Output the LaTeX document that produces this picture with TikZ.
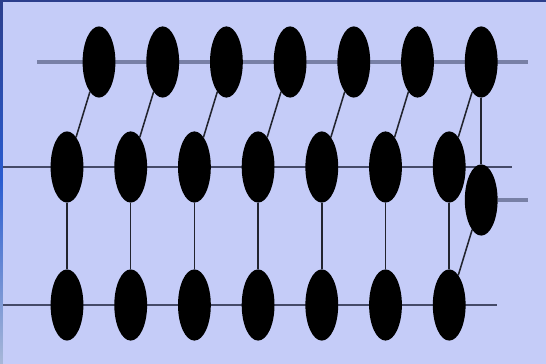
\documentclass[tikz,border=0pt]{standalone}
\usetikzlibrary{positioning, shapes.geometric}

\definecolor{bgblue}{HTML}{C5CCF8}
\definecolor{bandtop}{HTML}{2C3E8C}
\definecolor{bandmid}{HTML}{2A5CD0}
\definecolor{bandlow}{HTML}{A8B8D8}
\definecolor{railgray}{HTML}{7880A6}
\definecolor{raildark}{HTML}{454A68}
\definecolor{linkgray}{HTML}{22242E}

\begin{document}
\begin{tikzpicture}[
        bead/.style={ellipse, fill=black, inner sep=0pt, outer sep=0pt, minimum width=0.82cm, minimum height=1.78cm},
        rail/.style={draw=raildark, line width=1.8pt},
        thickrail/.style={draw=railgray, line width=3.5pt},
        link/.style={draw=linkgray, line width=1.1pt}
    ]
    \useasboundingbox (0,0) rectangle (13.65,-9.1);
    % background and edge bands
    \fill[bgblue] (0,0) rectangle (13.65,-9.1);
    \shade[top color=bandtop, bottom color=bandmid] (0,0) rectangle (0.075,-4.5);
    \shade[top color=bandmid, bottom color=bandlow] (0,-4.5) rectangle (0.075,-9.1);
    \fill[bandtop] (0,0) rectangle (13.65,-0.05);

    % rail ends
    \coordinate (topL) at (0.925,-1.55);
    \coordinate (topR) at (13.2,-1.55);
    \coordinate (midL) at (0.075,-4.175);
    \coordinate (midR) at (12.8,-4.175);
    \coordinate (lowL) at (0.075,-7.625);
    \coordinate (lowR) at (12.425,-7.625);
    \coordinate (stubL) at (12.45,-5.0);
    \coordinate (stubR) at (13.2,-5.0);

    \draw[thickrail] (topL) -- (topR);
    \draw[rail] (midL) -- (midR);
    \draw[rail] (lowL) -- (lowR);
    \draw[thickrail] (stubL) -- (stubR);

    % top row
    \node[bead] (t1) at (2.475,-1.55) {};
    \node[bead, right=0.7725cm of t1] (t2) {};
    \node[bead, right=0.7725cm of t2] (t3) {};
    \node[bead, right=0.7725cm of t3] (t4) {};
    \node[bead, right=0.7725cm of t4] (t5) {};
    \node[bead, right=0.7725cm of t5] (t6) {};
    \node[bead, right=0.7725cm of t6] (t7) {};

    % middle row
    \node[bead] (m1) at (1.675,-4.175) {};
    \node[bead, right=0.7725cm of m1] (m2) {};
    \node[bead, right=0.7725cm of m2] (m3) {};
    \node[bead, right=0.7725cm of m3] (m4) {};
    \node[bead, right=0.7725cm of m4] (m5) {};
    \node[bead, right=0.7725cm of m5] (m6) {};
    \node[bead, right=0.7725cm of m6] (m7) {};

    % bottom row
    \node[bead] (b1) at (1.675,-7.625) {};
    \node[bead, right=0.7725cm of b1] (b2) {};
    \node[bead, right=0.7725cm of b2] (b3) {};
    \node[bead, right=0.7725cm of b3] (b4) {};
    \node[bead, right=0.7725cm of b4] (b5) {};
    \node[bead, right=0.7725cm of b5] (b6) {};
    \node[bead, right=0.7725cm of b6] (b7) {};

    % odd one out
    \node[bead] (mx) at (t7 |- stubL) {};

    \draw[link] (t1) -- (m1);
    \draw[link] (t2) -- (m2);
    \draw[link] (t3) -- (m3);
    \draw[link] (t4) -- (m4);
    \draw[link] (t5) -- (m5);
    \draw[link] (t6) -- (m6);
    \draw[link] (t7) -- (m7);
    \draw[link] (m1) -- (b1);
    \draw[link] (m2) -- (b2);
    \draw[link] (m3) -- (b3);
    \draw[link] (m4) -- (b4);
    \draw[link] (m5) -- (b5);
    \draw[link] (m6) -- (b6);
    \draw[link] (m7) -- (b7);
    \draw[link] (t7) -- (mx);
    \draw[link] (mx) -- (b7);
\end{tikzpicture}
\end{document}
